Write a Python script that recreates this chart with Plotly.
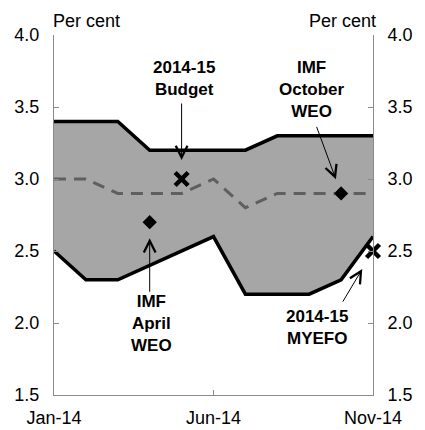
import plotly.graph_objects as go

months = ['Jan-14', 'Feb-14', 'Mar-14', 'Apr-14', 'May-14', 'Jun-14',
          'Jul-14', 'Aug-14', 'Sep-14', 'Oct-14', 'Nov-14']
range_high = [3.4, 3.4, 3.4, 3.2, 3.2, 3.2, 3.2, 3.3, 3.3, 3.3, 3.3]
range_low = [2.5, 2.3, 2.3, 2.4, 2.5, 2.6, 2.2, 2.2, 2.2, 2.3, 2.6]
average = [3.0, 3.0, 2.9, 2.9, 2.9, 3.0, 2.8, 2.9, 2.9, 2.9, 2.9]
imf_months = ['Apr-14', 'Oct-14']
imf_values = [2.7, 2.9]
govt_months = ['May-14', 'Nov-14']
govt_values = [3.0, 2.5]
x_ticks = ['Jan-14', 'Jun-14', 'Nov-14']
y_ticks = [1.5, 2.0, 2.5, 3.0, 3.5, 4.0]

FONT = 'Liberation Sans, Arial, sans-serif'
AXIS_GREY = '#8a8a8a'

fig = go.Figure()
fig.add_trace(go.Scatter(x=months, y=range_low, mode='lines',
                         line=dict(color='black', width=3.5), showlegend=False))
fig.add_trace(go.Scatter(x=months, y=range_high, mode='lines', fill='tonexty',
                         fillcolor='#a6a6a6',
                         line=dict(color='black', width=3.5), showlegend=False))
fig.add_trace(go.Scatter(x=months, y=average, mode='lines',
                         line=dict(color='#5f5f5f', width=3, dash='12px,8px'),
                         showlegend=False))
fig.add_trace(go.Scatter(x=imf_months, y=imf_values, mode='markers',
                         marker=dict(symbol='diamond', size=11, color='black'),
                         showlegend=False, cliponaxis=False))
fig.add_trace(go.Scatter(x=govt_months, y=govt_values, mode='markers',
                         marker=dict(symbol='x-thin-open', size=13, color='black',
                                     line=dict(color='black', width=4.5)),
                         showlegend=False, cliponaxis=False))
fig.add_trace(go.Scatter(x=months, y=average, yaxis='y2', mode='lines',
                         line=dict(width=0), opacity=0, hoverinfo='skip',
                         showlegend=False))

def idx(m):
    return months.index(m)

text_font = dict(family=FONT, size=17, color='black')
labels = [
    ('<b>2014-15<br>Budget</b>', 4.07, 3.70),
    ('<b>IMF<br>October<br>WEO</b>', 8.08, 3.625),
    ('<b>IMF<br>April<br>WEO</b>', 3.06, 2.0),
    ('<b>2014-15<br>MYEFO</b>', 8.23, 1.97),
]
annotations = []
for t, x, y in labels:
    annotations.append(dict(text=t, x=x, y=y, xref='x', yref='y', showarrow=False,
                            font=text_font, xanchor='center', yanchor='middle'))

arrows = [
    ('May-14', 3.0, 0, -77, 19),
    ('Oct-14', 2.9, -25, -68, 15),
    ('Apr-14', 2.7, 0, 71, 16),
    ('Nov-14', 2.5, -31, 52, 21),
]
for m, v, ax, ay, so in arrows:
    annotations.append(dict(text='', x=idx(m), y=v, xref='x', yref='y',
                            showarrow=True, arrowhead=5, arrowsize=2.3,
                            arrowwidth=1, arrowcolor='black', ax=ax, ay=ay,
                            standoff=so))

pc_font = dict(family=FONT, size=18, color='black')
annotations.append(dict(text='Per cent', x=0, y=1, xref='paper', yref='paper',
                        xanchor='left', yanchor='bottom', showarrow=False,
                        xshift=-3, yshift=2, font=pc_font))
annotations.append(dict(text='Per cent', x=1, y=1, xref='paper', yref='paper',
                        xanchor='right', yanchor='bottom', showarrow=False,
                        xshift=5, yshift=2, font=pc_font))

yaxis_common = dict(range=[1.5, 4.0], tickvals=y_ticks, tickformat='.1f',
                    showgrid=False, zeroline=False, showline=True,
                    linecolor=AXIS_GREY, linewidth=1, ticks='inside',
                    ticklen=5, tickcolor=AXIS_GREY, automargin=False,
                    tickfont=dict(family=FONT, size=18, color='black'),
                    ticklabelstandoff=10)

fig.update_layout(
    width=417, height=422,
    margin=dict(l=46, r=52, t=27, b=35),
    paper_bgcolor='white', plot_bgcolor='white',
    xaxis=dict(type='category', range=[0, 10], tickvals=x_ticks,
               showgrid=False, zeroline=False, showline=True,
               linecolor=AXIS_GREY, linewidth=1, ticks='inside', ticklen=5,
               tickcolor=AXIS_GREY, automargin=False, ticklabelstandoff=6,
               tickfont=dict(family=FONT, size=18, color='black')),
    yaxis=dict(**yaxis_common),
    yaxis2=dict(**yaxis_common, overlaying='y', side='right'),
    annotations=annotations,
)

fig.write_html('out.html')
